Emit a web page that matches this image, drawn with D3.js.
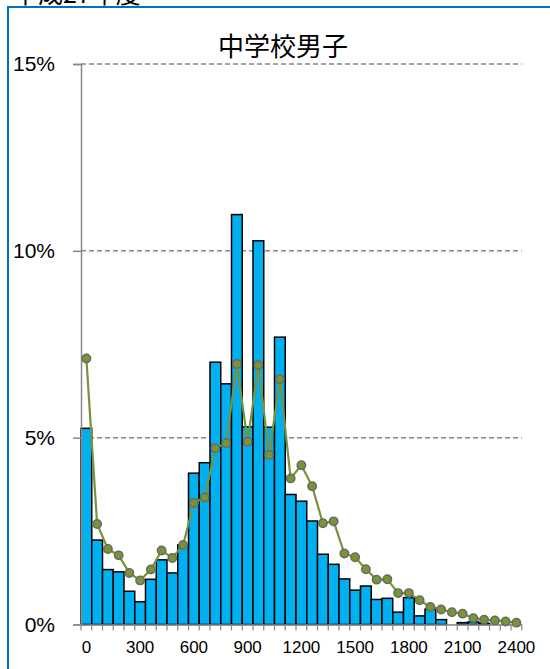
<!DOCTYPE html>
<html>
<head>
<meta charset="utf-8">
<script src="https://cdn.jsdelivr.net/npm/d3@7"></script>
<style>
    body { margin: 0; background: #fff; }
    #container { width: 550px; height: 669px; overflow: hidden; }
</style>
</head>
<body>
<div id="container"></div>
<script>
// categories (step of 60)
const categories = [0, 60, 120, 180, 240, 300, 360, 420, 480, 540, 600, 660, 720, 780, 840, 900, 960, 1020, 1080, 1140, 1200,
    1260, 1320, 1380, 1440, 1500, 1560, 1620, 1680, 1740, 1800, 1860, 1920, 1980, 2040, 2100, 2160, 2220, 2280, 2340, 2400];
// bar series (%)
const barValues = [5.25, 2.26, 1.47, 1.41, 0.89, 0.61, 1.21, 1.73, 1.38, 2.13, 4.05, 4.33, 7.02, 6.44, 10.97, 5.29, 10.27, 5.28, 7.69, 3.48, 3.30,
    2.77, 1.88, 1.61, 1.22, 0.92, 1.03, 0.67, 0.70, 0.33, 0.72, 0.23, 0.41, 0.13, 0.01, 0.05, 0.07, 0.03, 0.02, 0.01, 0.00];
// line series (%)
const lineValues = [7.12, 2.69, 2.02, 1.85, 1.38, 1.18, 1.47, 1.98, 1.78, 2.13, 3.25, 3.40, 4.72, 4.85, 6.97, 4.89, 6.94, 4.54, 6.56, 3.91, 4.26,
    3.70, 2.71, 2.76, 1.90, 1.80, 1.48, 1.20, 1.21, 0.84, 0.84, 0.65, 0.47, 0.40, 0.33, 0.29, 0.17, 0.13, 0.11, 0.08, 0.05];
const xTickLabels = [0, 300, 600, 900, 1200, 1500, 1800, 2100, 2400];
const yTicks = [0, 5, 10, 15];
const chartTitle = "中学校男子";
const topTitle = "平成27年度";

const width = 550;
const height = 669;
const margin = {top: 64, right: 29, bottom: 44.5, left: 81};
const gray = "#878787";

const x = d3.scaleBand()
    .domain(categories)
    .range([margin.left, width - margin.right + 0.75])
    .padding(0);

const y = d3.scaleLinear()
    .domain([0, 15])
    .range([height - margin.bottom, margin.top]);

const svg = d3.create("svg")
    .attr("width", width)
    .attr("height", height)
    .attr("font-family", "'Liberation Sans', Arial, sans-serif");

// outer frame (runs off the page on right and bottom)
svg.append("rect")
    .attr("x", 8)
    .attr("y", 7)
    .attr("width", 600)
    .attr("height", 700)
    .attr("fill", "none")
    .attr("stroke", "#0070C0")
    .attr("stroke-width", 2);

// heading above the frame, cut by the top edge as in the source
svg.append("text")
    .attr("x", 13)
    .attr("y", 3)
    .attr("font-size", "25px")
    .attr("font-family", "'Noto Sans CJK JP', sans-serif")
    .attr("fill", "#000")
    .text(topTitle);

svg.append("text")
    .attr("x", 283)
    .attr("y", 56)
    .attr("text-anchor", "middle")
    .attr("font-size", "26px")
    .attr("font-family", "'Noto Sans CJK JP', sans-serif")
    .attr("fill", "#000")
    .text(chartTitle);

// grid
svg.append("g")
    .selectAll("line")
    .data(yTicks.filter(d => d > 0))
    .join("line")
    .attr("x1", margin.left)
    .attr("x2", x.range()[1])
    .attr("y1", d => y(d))
    .attr("y2", d => y(d))
    .attr("stroke", gray)
    .attr("stroke-width", 1.5)
    .attr("stroke-dasharray", "5,3");

// bars
svg.append("g")
    .selectAll("rect")
    .data(barValues)
    .join("rect")
    .attr("x", (d, i) => x(categories[i]))
    .attr("y", d => y(d))
    .attr("width", x.bandwidth())
    .attr("height", d => y(0) - y(d))
    .attr("fill", "#00B0F0")
    .attr("stroke", d => d > 0.02 ? "#000" : "none")
    .attr("stroke-width", 1.5);

// y axis
const yAxis = svg.append("g")
    .attr("transform", `translate(${margin.left}, 0)`)
    .call(d3.axisLeft(y).tickValues(yTicks).tickSize(8).tickPadding(18).tickFormat(d => d + "%"));
yAxis.select(".domain").attr("stroke", gray).attr("stroke-width", 1.5);
yAxis.selectAll(".tick line").attr("stroke", gray).attr("stroke-width", 1.5);
yAxis.selectAll("text")
    .attr("font-size", "21px")
    .attr("font-family", "'Liberation Sans', Arial, sans-serif")
    .attr("fill", "#000");

// x axis
const xAxis = svg.append("g")
    .attr("transform", `translate(0, ${y(0)})`)
    .call(d3.axisBottom(x).tickSize(0).tickPadding(16)
        .tickFormat(d => xTickLabels.includes(d) ? d : ""));
xAxis.select(".domain").attr("stroke", gray).attr("stroke-width", 1.5);
xAxis.selectAll("text")
    .attr("font-size", "17px")
    .attr("font-family", "'Liberation Sans', Arial, sans-serif")
    .attr("fill", "#000");

// boundary ticks between categories
xAxis.append("g")
    .selectAll("line")
    .data(categories.concat(["end"]))
    .join("line")
    .attr("x1", (d, i) => x.range()[0] + i * x.bandwidth())
    .attr("x2", (d, i) => x.range()[0] + i * x.bandwidth())
    .attr("y1", 0)
    .attr("y2", 6)
    .attr("stroke", gray)
    .attr("stroke-width", 1.2);

// line + markers
svg.append("path")
    .datum(lineValues)
    .attr("fill", "none")
    .attr("stroke", "#77933C")
    .attr("stroke-width", 2.2)
    .attr("d", d3.line()
        .x((d, i) => x(categories[i]) + x.bandwidth() / 2)
        .y(d => y(d)));

svg.append("g")
    .selectAll("circle")
    .data(lineValues)
    .join("circle")
    .attr("cx", (d, i) => x(categories[i]) + x.bandwidth() / 2)
    .attr("cy", d => y(d))
    .attr("r", 4.2)
    .attr("fill", "#77933C")
    .attr("stroke", "#676b5c")
    .attr("stroke-width", 1.5);

document.getElementById("container").append(svg.node());
</script>
</body>
</html>
